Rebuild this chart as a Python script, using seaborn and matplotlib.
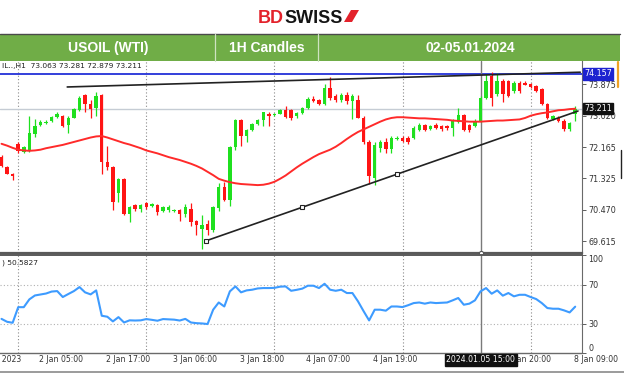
import numpy as np
import pandas as pd
import matplotlib
matplotlib.use("Agg")
import matplotlib.pyplot as plt
import matplotlib.transforms as mtransforms
from matplotlib.patches import Rectangle, Polygon
from matplotlib.lines import Line2D
import seaborn as sns

# ---------------- data ----------------
opens = [71.90, 71.64, 71.45, 72.26, 72.05, 72.10, 72.53, 72.78, 72.82, 72.87,
         72.99, 73.02, 72.77, 72.97, 73.17, 73.58, 73.33, 73.24, 73.58, 71.76,
         71.63, 70.93, 71.31, 70.37, 70.59, 70.48, 70.65, 70.58, 70.59, 70.43,
         70.47, 70.44, 70.46, 70.37, 70.48, 70.17, 69.95, 70.08, 69.92, 70.53,
         71.09, 70.75, 72.17, 72.90, 72.48, 72.63, 72.79, 72.90, 73.08, 73.04,
         73.08, 73.17, 73.17, 73.00, 73.09, 73.24, 73.47, 73.44, 73.33, 73.78,
         73.56, 73.44, 73.59, 73.42, 73.44, 72.97, 72.30, 71.33, 72.15, 72.30,
         72.12, 72.39, 72.43, 72.42, 72.43, 72.63, 72.77, 72.66, 72.77, 72.73,
         72.74, 72.70, 72.86, 73.04, 72.77, 72.75, 72.88, 73.51, 74.10, 73.60,
         73.96, 73.96, 73.69, 73.92, 73.92, 73.87, 73.83, 73.74, 73.33, 72.93,
         72.97, 72.88, 72.66, 73.063]
highs = [71.95, 71.67, 71.47, 72.30, 72.20, 73.02, 72.93, 72.90, 72.90, 73.01,
         73.12, 73.05, 73.00, 73.22, 73.56, 73.62, 73.45, 73.67, 73.60, 72.21,
         71.66, 71.33, 71.33, 70.57, 70.62, 70.62, 70.68, 70.65, 70.62, 70.58,
         70.60, 70.48, 70.48, 70.64, 70.66, 70.20, 70.34, 70.20, 70.57, 71.20,
         71.23, 72.20, 72.92, 72.93, 72.66, 72.82, 72.93, 73.13, 73.13, 73.10,
         73.20, 73.29, 73.20, 73.12, 73.27, 73.52, 73.56, 73.48, 73.88, 74.07,
         73.60, 73.63, 73.67, 73.60, 73.58, 73.00, 72.35, 72.30, 72.35, 72.42,
         72.47, 72.47, 72.46, 72.47, 72.73, 72.81, 72.80, 72.78, 72.81, 72.76,
         72.77, 72.92, 73.24, 73.07, 72.80, 72.92, 73.55, 74.14, 74.20, 74.19,
         74.02, 74.00, 73.96, 73.96, 73.97, 73.90, 73.86, 73.77, 73.36, 73.05,
         73.00, 72.92, 72.84, 73.281]
lows = [71.62, 71.43, 71.29, 72.02, 72.02, 72.04, 72.44, 72.73, 72.79, 72.85,
        72.96, 72.72, 72.54, 72.95, 73.15, 73.11, 72.97, 73.02, 71.45, 71.54,
        70.46, 70.68, 70.33, 70.14, 70.45, 70.40, 70.50, 70.55, 70.32, 70.40,
        70.40, 70.42, 70.16, 70.28, 70.02, 69.78, 69.40, 69.80, 69.88, 70.45,
        70.70, 70.57, 72.10, 72.21, 72.30, 72.60, 72.76, 72.75, 72.73, 73.00,
        73.06, 72.95, 72.90, 72.97, 73.06, 73.20, 73.38, 73.30, 73.30, 73.45,
        73.40, 73.40, 73.34, 72.93, 72.95, 72.26, 71.18, 71.15, 72.05, 72.00,
        72.02, 72.36, 72.30, 72.26, 72.40, 72.60, 72.60, 72.63, 72.66, 72.62,
        72.64, 72.46, 72.83, 72.60, 72.57, 72.72, 72.85, 73.48, 73.29, 73.55,
        73.40, 73.52, 73.65, 73.65, 73.84, 73.77, 73.66, 73.30, 72.92, 72.90,
        72.84, 72.62, 72.60, 72.879]
closes = [71.66, 71.45, 71.38, 72.06, 72.17, 72.54, 72.75, 72.84, 72.86, 72.99,
          73.07, 72.75, 72.97, 73.20, 73.51, 73.33, 73.20, 73.56, 71.76, 71.63,
          70.68, 71.31, 70.37, 70.55, 70.48, 70.59, 70.55, 70.62, 70.41, 70.55,
          70.56, 70.46, 70.37, 70.55, 70.14, 70.06, 70.05, 69.92, 70.55, 71.09,
          70.75, 72.17, 72.90, 72.48, 72.63, 72.79, 72.90, 73.11, 73.02, 73.08,
          73.17, 72.99, 72.97, 73.09, 73.24, 73.47, 73.41, 73.33, 73.78, 73.51,
          73.44, 73.59, 73.41, 73.56, 72.97, 72.30, 71.40, 72.24, 72.30, 72.12,
          72.43, 72.43, 72.34, 72.32, 72.69, 72.77, 72.63, 72.75, 72.69, 72.66,
          72.68, 72.88, 73.04, 72.64, 72.64, 72.88, 73.51, 73.96, 73.51, 73.96,
          73.60, 73.56, 73.92, 73.69, 73.86, 73.80, 73.69, 73.33, 72.97, 73.02,
          72.88, 72.66, 72.82, 73.211]
moving_avg = [72.26, 72.21, 72.15, 72.10, 72.08, 72.07, 72.08, 72.10, 72.14, 72.17,
              72.20, 72.23, 72.27, 72.31, 72.35, 72.39, 72.43, 72.46, 72.47, 72.43,
              72.38, 72.33, 72.28, 72.24, 72.19, 72.14, 72.08, 72.04, 72.00, 71.95,
              71.90, 71.86, 71.82, 71.77, 71.72, 71.66, 71.59, 71.50, 71.41, 71.31,
              71.26, 71.22, 71.19, 71.17, 71.16, 71.15, 71.14, 71.15, 71.18, 71.23,
              71.31, 71.40, 71.51, 71.62, 71.72, 71.81, 71.90, 71.98, 72.04, 72.10,
              72.18, 72.28, 72.39, 72.49, 72.58, 72.65, 72.72, 72.79, 72.86, 72.92,
              72.96, 72.98, 72.98, 72.97, 72.96, 72.95, 72.95, 72.94, 72.93, 72.92,
              72.91, 72.89, 72.88, 72.87, 72.86, 72.86, 72.86, 72.87, 72.88, 72.89,
              72.89, 72.90, 72.91, 72.92, 72.96, 73.02, 73.06, 73.09, 73.11, 73.14,
              73.17, 73.18, 73.20, 73.21]
rsi = [35, 32, 31, 47, 47, 55, 59, 60, 61, 63,
       63.5, 57.4, 60.5, 63.5, 67.6, 62.2, 60.1, 64.2, 38.2, 37.2,
       32.4, 36.8, 31.3, 33.5, 33.3, 33.5, 34.8, 34, 33.1, 34.8,
       34.5, 34.2, 33.3, 35, 31.3, 30.6, 30.3, 29.7, 44.4, 51.8,
       47.7, 63.2, 68.3, 62.2, 64.2, 64.9, 66.2, 66.6, 66.6, 66.8,
       68, 68.3, 63.8, 64.8, 66, 69, 69, 66.6, 71, 64.9,
       63.8, 64.9, 61.5, 61.5, 53, 43, 33.4, 44.4, 44.4, 43.4,
       47.7, 47.7, 47.1, 49, 51.2, 51.8, 50.6, 51.8, 51.2, 51.5,
       51.8, 54, 56.4, 49.5, 50.6, 54, 63.2, 66.6, 60.8, 64.2,
       58.8, 61.5, 58.1, 59.7, 59.7, 57.4, 55.3, 51.2, 46.1, 45.4,
       45.4, 43.7, 41.6, 47.5]

price_ticks = [69.615, 70.470, 71.325, 72.165, 73.020, 73.875]
rsi_ticks = [0, 30, 70, 100]
resistance_level = 74.157
last_price = 73.211
# trend lines: (bar index, price) anchors
upper_line_idx = [11.8, 103.9]
upper_line_px = [73.80, 74.20]
support_idx = [36.8, 70.95]
support_px = [69.634, 71.433]
support_ray_end = 103.5
# time axis
time_tick_idx = [7, 19, 31, 43, 55, 67, 91, 103]
time_tick_lbl = ["2 Jan 05:00", "2 Jan 17:00", "3 Jan 06:00", "3 Jan 18:00",
                 "4 Jan 07:00", "4 Jan 19:00", "5 Jan 20:00", "8 Jan 09:00"]
first_label_idx = 3.5
first_label = "29 Dec 2023"
day_start_idx = [3, 26, 49, 72, 95]
crosshair_idx = 86
crosshair_lbl = "2024.01.05 15:00"
ohlc_text = "IL..,H1  73.063 73.281 72.879 73.211"
rsi_text = ") 50.5827"

# ---------------- style ----------------
sns.set_theme(style="white")
plt.rcParams['font.family'] = ['DejaVu Sans']

W, H = 624, 375
fig = plt.figure(figsize=(W / 100, H / 100), dpi=100, facecolor="white")


def fx(px):
    return px / W


def fy(py):
    return 1 - py / H


GREEN = "#1fe01f"
RED = "#ff1414"

ax = fig.add_axes([0, fy(253), fx(582), (253 - 61) / H])
ax2 = fig.add_axes([0, fy(353), fx(582), (353 - 255) / H])

n = len(closes)
idx = np.arange(n)
df = pd.DataFrame({"idx": idx, "open": opens, "high": highs, "low": lows,
                   "close": closes, "ma": moving_avg, "rsi": rsi})

xlim = (-0.27, 104.22)
for a in (ax, ax2):
    a.set_xlim(*xlim)
    a.set_facecolor("white")
    a.set_xticks([])
    a.grid(False)
ax.set_ylim(69.30, 74.504)
ax2.set_ylim(0, 100.5)

# vertical dotted grid at day starts
for a in (ax, ax2):
    for d in day_start_idx:
        a.axvline(d, color="#8a8a8a", lw=0.8, ls=(0, (1, 2)), zorder=0)
for lvl in (30, 70):
    ax2.axhline(lvl, color="#b0b0b0", lw=0.8, ls=(0, (1, 2)), zorder=0)

# horizontal levels
ax.axhline(last_price, color="#c5ccd4", lw=1.0, zorder=1)
ax.axhline(resistance_level, color="#2330d8", lw=1.3, zorder=2)

# candles
up = df["close"] >= df["open"]
cols = np.where(up, GREEN, RED)
ax.vlines(df["idx"], df["low"], df["high"], colors=cols, lw=0.9, zorder=3)
body = np.maximum((df["close"] - df["open"]).abs(), 0.015)
ax.bar(df["idx"], body, bottom=np.minimum(df["open"], df["close"]),
       width=0.62, color=cols, linewidth=0, zorder=4)

# moving average
sns.lineplot(data=df, x="idx", y="ma", ax=ax, color="#ff2a2a", lw=1.4, zorder=5)

# trend lines
ax.plot(upper_line_idx, upper_line_px, color="#222222", lw=1.2, zorder=6)
slope = (support_px[1] - support_px[0]) / (support_idx[1] - support_idx[0])
ray_x = [support_idx[0], support_ray_end]
ray_y = [support_px[0], support_px[0] + slope * (support_ray_end - support_idx[0])]
ax.plot(ray_x, ray_y, color="#222222", lw=1.2, zorder=6)
mid_x = (support_idx[0] + support_idx[1]) / 2
mid_y = (support_px[0] + support_px[1]) / 2
ax.plot([support_idx[0], mid_x, support_idx[1]], [support_px[0], mid_y, support_px[1]],
        ls="none", marker="s", ms=2.6, mfc="white", mec="#222222", mew=0.8, zorder=7)

# crosshair
for a in (ax, ax2):
    a.axvline(crosshair_idx, color="#7a7a7a", lw=1.0, zorder=2)
ax.plot([crosshair_idx], [ax.get_ylim()[0]], marker="o", ms=3, mfc="white",
        mec="#555555", mew=0.8, clip_on=False, zorder=8)

# RSI
sns.lineplot(data=df, x="idx", y="rsi", ax=ax2, color="#3d9bff", lw=1.5, zorder=5)

# axes cosmetics
for a in (ax, ax2):
    a.set_xlabel("")
    a.set_ylabel("")
    a.yaxis.tick_right()
    a.spines["left"].set_visible(False)
    a.spines["right"].set_color("#6a6a6a")
    a.spines["right"].set_linewidth(0.8)
    a.tick_params(axis="y", direction="out", length=3, width=0.6, colors="#444444",
                  labelsize=5.8, pad=1.5, labelcolor="#333333")
ax.spines["top"].set_visible(False)
ax.spines["bottom"].set_color("#5a5a5a")
ax.spines["bottom"].set_linewidth(1.6)
ax2.spines["top"].set_color("#5a5a5a")
ax2.spines["top"].set_linewidth(1.4)
ax2.spines["bottom"].set_color("#6a6a6a")
ax2.spines["bottom"].set_linewidth(1.0)

ax.set_yticks(price_ticks)
ax.set_yticklabels([f"{v:.3f}" for v in price_ticks])
ax2.set_yticks(rsi_ticks)
ax2.set_yticklabels([str(v) for v in rsi_ticks])
for lbl in ax2.get_yticklabels():
    if lbl.get_text() == "100":
        lbl.set_va("top")
    elif lbl.get_text() == "0":
        lbl.set_va("bottom")

# price label boxes
ytr = ax.get_yaxis_transform()
ax.text(1.004, resistance_level, f"{resistance_level:.3f}", transform=ytr, ha="left",
        va="center", fontsize=5.8, color="white",
        bbox=dict(boxstyle="square,pad=0.15", fc="#1d22d0", ec="#1d22d0"), zorder=10)
ax.text(1.004, last_price, f"{last_price:.3f}", transform=ytr, ha="left",
        va="center", fontsize=5.8, color="white",
        bbox=dict(boxstyle="square,pad=0.15", fc="#111111", ec="#111111"), zorder=10)

# header texts inside panels
ax.text(0.003, 0.975, ohlc_text, transform=ax.transAxes, ha="left", va="center",
        fontsize=5.4, color="#222222")
ax2.text(0.003, 0.92, rsi_text, transform=ax2.transAxes, ha="left", va="center",
         fontsize=5.4, color="#222222")

# time labels
ttr = mtransforms.blended_transform_factory(ax2.transData, fig.transFigure)
for k, lbl in zip(time_tick_idx, time_tick_lbl):
    fig.text(k - 0.25, fy(360), lbl, transform=ttr, ha="left", va="center",
             fontsize=5.6, color="#333333")
fig.text(first_label_idx, fy(360), first_label, transform=ttr, ha="right", va="center",
         fontsize=5.6, color="#333333")
fig.text(crosshair_idx, fy(360), crosshair_lbl, transform=ttr, ha="center", va="center",
         fontsize=5.6, color="white",
         bbox=dict(boxstyle="square,pad=0.2", fc="#111111", ec="#111111"))
fig.add_artist(Line2D([0, 1], [fy(372), fy(372)], transform=fig.transFigure,
                      color="#8a8a8a", lw=1.2))

# right-edge marks
fig.add_artist(Line2D([fx(617.5), fx(617.5)], [fy(62), fy(87)], transform=fig.transFigure,
                      color="#f0a224", lw=1.6))
fig.add_artist(Line2D([fx(621), fx(621)], [fy(150), fy(178)], transform=fig.transFigure,
                      color="#222222", lw=1.0))

# banner
fig.add_artist(Rectangle((0, fy(61)), fx(620), (61 - 34) / H, transform=fig.transFigure,
                         facecolor="#70ad47", edgecolor="none"))
fig.add_artist(Line2D([0, fx(620)], [fy(34), fy(34)], transform=fig.transFigure,
                      color="#4a4a4a", lw=1.0))
for xd in (215, 318):
    fig.add_artist(Line2D([fx(xd), fx(xd)], [fy(34), fy(61)], transform=fig.transFigure,
                          color="#cfe3c2", lw=0.9))
for txt, xc in (("USOIL (WTI)", 108), ("1H Candles", 267), ("02-05.01.2024", 470)):
    fig.text(fx(xc), fy(48), txt, ha="center", va="center", color="white",
             fontsize=10, fontweight="bold", family="Liberation Sans")

# logo
fig.text(fx(284), fy(23), "BD", ha="right", va="baseline", color="#e3222b",
         fontsize=13, fontweight="bold", family="Liberation Sans")
fig.text(fx(284), fy(23), "SWISS", ha="left", va="baseline", color="#141414",
         fontsize=13, fontweight="bold", family="Liberation Sans")
fig.add_artist(Polygon([(fx(344), fy(22)), (fx(351), fy(10)), (fx(359), fy(10)),
                        (fx(352), fy(22))], closed=True, transform=fig.transFigure,
                       facecolor="#e3222b", edgecolor="none"))

fig.savefig("out.png", dpi=100, facecolor="white")
